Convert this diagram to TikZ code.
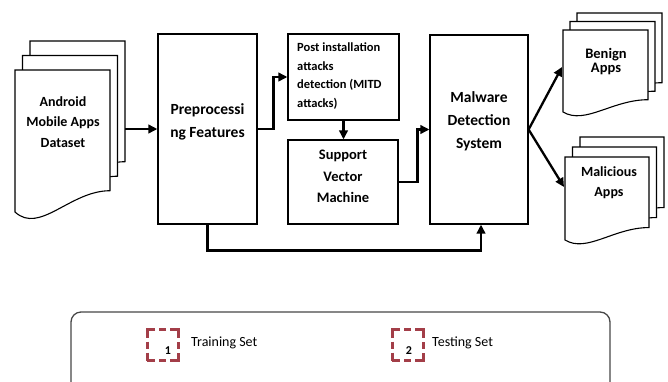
\documentclass[tikz,border=0pt]{standalone}
\usepackage{fontspec}
\setmainfont{Carlito}
\usetikzlibrary{arrows.meta}

\definecolor{setred}{RGB}{163,62,72}
\definecolor{legendgray}{RGB}{70,70,70}

% one sheet of a document stack: top-left x, top-left y, width, left height
\newcommand{\appsheet}[4]{%
  \filldraw[sheet,shift={(#1,#2)}] (0,0) -- (#3,0) -- (#3,-0.85*#4)
    .. controls (0.58*#3,-0.85*#4) and (0.26*#3,-1.16*#4) .. (0,-#4) -- cycle;}

\begin{document}
\begin{tikzpicture}[x=1pt,y=1pt]
\tikzstyle{every node}+=[inner sep=0pt]
\tikzstyle{sheet}=[draw=black,fill=white,line width=1.1pt]
\tikzstyle{block}=[draw=black,fill=white,line width=1.2pt]
\tikzstyle{bigtext}=[align=center,font=\fontsize{15.5}{23}\selectfont\bfseries]
\tikzstyle{flow}=[line width=2.3pt,-{Triangle[length=9pt,width=8.5pt]}]
\tikzstyle{setmark}=[draw=setred,line width=3pt,minimum size=31pt,dash pattern=on 16pt off 4pt on 7pt off 4pt,dash phase=8pt]
\tikzstyle{legendtext}=[anchor=west,font=\fontsize{14}{16}\selectfont]
\path[use as bounding box,clip] (0,0) rectangle (668,-381);

% document stacks
\foreach \k in {2,1,0}
  \appsheet{15+\k*7.5}{-70+\k*14.5}{95}{142};
\foreach \k in {2,1,0}
  \appsheet{563+\k*7}{-30+\k*8.5}{85}{82};
\foreach \k in {2,1,0}
  \appsheet{565+\k*7.5}{-157+\k*10}{84}{83};
\node[align=center,font=\fontsize{14}{20.5}\selectfont\bfseries] (dataset) at (63,-122) {Android\\Mobile Apps\\Dataset};
\node[align=center,font=\fontsize{14.5}{14}\selectfont\bfseries] (benign) at (606,-61.5) {Benign\\Apps};
\node[align=center,font=\fontsize{14}{20}\selectfont\bfseries] (malicious) at (609,-183) {Malicious\\Apps};
\coordinate (datasetOut) at (125,-129);
\coordinate (benignIn) at (562,-67);
\coordinate (maliciousIn) at (564,-187);

% processing blocks
\node[block,minimum width=99pt,minimum height=190pt] (pre) at (207.5,-129) {};
\node[block,minimum width=111pt,minimum height=86pt] (post) at (343.5,-77) {};
\node[block,minimum width=110pt,minimum height=84pt] (svm) at (343,-182) {};
\node[block,minimum width=98pt,minimum height=189pt] (mds) at (479,-129.5) {};
\node[bigtext] (preText) at (207.5,-121.5) {Preprocessi\\ng Features};
\node[anchor=west,align=left,font=\fontsize{12.5}{18.7}\selectfont\bfseries] (postText) at (297,-76) {Post installation\\attacks\\detection (MITD\\attacks)};
\node[align=center,font=\fontsize{14.5}{21.5}\selectfont\bfseries] (svmText) at (343,-176.5) {Support\\Vector\\Machine};
\node[bigtext] (mdsText) at (479,-121) {Malware\\Detection\\System};

% connectors
\draw[flow] (datasetOut) -- (datasetOut -| pre.west);
\draw[flow] (pre.east) -- ++(16,0) |- (post.west);
\draw[flow] (post.south) -- (post.south |- svm.north);
\draw[flow] (svm.east) -- ++(19,0) |- (mds.west);
\draw[flow] (pre.south) -- ++(0,-26) -| ([xshift=2pt]mds.south);
\draw[flow] (mds.east) -- (benignIn);
\draw[flow] (mds.east) -- (maliciousIn);

% legend
\draw[legendgray,line width=1.3pt,rounded corners=10pt] (71,-312) rectangle (610,-395);
\node[setmark] (trainMark) at (162.5,-345) {};
\node[setmark] (testMark) at (407.5,-345) {};
\node[font=\fontsize{12}{14}\selectfont\bfseries] (trainNum) at (168,-351) {1};
\node[font=\fontsize{12}{14}\selectfont\bfseries] (testNum) at (409,-351) {2};
\node[legendtext] (trainText) at (191,-343) {Training Set};
\node[legendtext] (testText) at (432,-343) {Testing Set};
\end{tikzpicture}
\end{document}
